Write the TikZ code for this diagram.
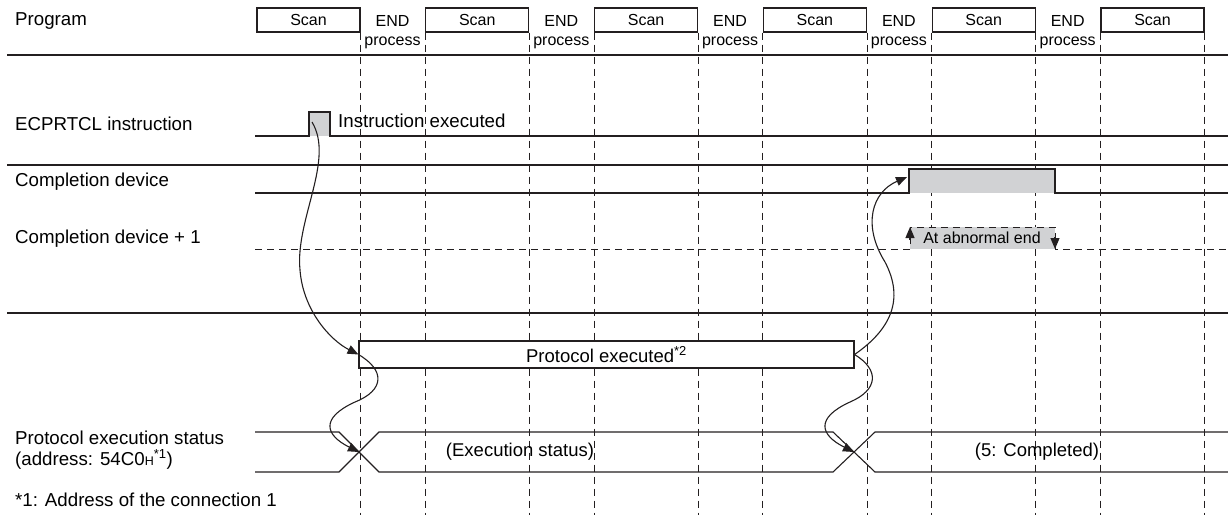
\documentclass[tikz,border=0pt]{standalone}
\usepackage{fontspec}
\setmainfont{Liberation Sans}
\usetikzlibrary{arrows.meta}
\definecolor{lineblack}{RGB}{35,31,32}
\definecolor{pulsegray}{RGB}{209,210,212}

\begin{document}
\begin{tikzpicture}[x=1pt, y=-1pt,
    sig/.style={lineblack, line width=1.1pt},
    sep/.style={lineblack, line width=2.6pt},
    grid/.style={lineblack, line width=0.9pt, dash pattern=on 7pt off 5pt},
    lbl/.style={anchor=west, inner sep=0pt, font=\fontsize{18.7}{20.5}\selectfont},
    txt/.style={inner sep=0pt, font=\fontsize{16}{18}\selectfont},
    bigtxt/.style={inner sep=0pt, font=\fontsize{18.5}{20}\selectfont},
    scanbox/.style={draw=lineblack, line width=1.1pt, minimum width=103pt, minimum height=24pt, inner sep=0pt, font=\fontsize{16}{18}\selectfont},
    tip/.style={-{Triangle[length=11pt,width=9pt]}}]

    \useasboundingbox (0,0) rectangle (1228,515);

    % Row labels
    \node[lbl] (program) at (15,21) {Program};
    \node[lbl] (ecprtcl) at (15,124) {ECPRTCL instruction};
    \node[lbl] (compdev) at (15,182) {Completion device};
    \node[lbl] (compdevone) at (15,239) {Completion device + 1};
    \node[lbl, align=left] (status) at (15,450) {Protocol execution status\\(address: 54C0{\fontsize{12.5}{12.5}\selectfont H}\textsuperscript{*1})};
    \node[lbl] (note) at (15,500) {*1: Address of the connection 1};

    % Scan and END process
    \foreach \k in {0,...,5}
        \node[scanbox] (scan\k) at ({308.5+168.8*\k},20) {Scan};
    \foreach \k in {0,...,4} {
        \node[txt] (end\k) at ({392.5+168.8*\k},21) {END};
        \node[txt] (proc\k) at ({392.5+168.8*\k},43) {process};
    }

    % Vertical dashed lines
    \foreach \k in {0,...,5}
        \draw[grid] (scan\k.south east) -- (scan\k.south east |- 0,515);
    \foreach \k in {1,...,5}
        \draw[grid] (scan\k.south west) -- (scan\k.south west |- 0,515);

    % Separators
    \draw[sep] (7,55) -- (1228,55);
    \draw[sep] (7,165) -- (1228,165);
    \draw[sep] (7,313) -- (1228,313);

    % ECPRTCL instruction
    \fill[pulsegray] (309,112) rectangle (330,136);
    \draw[sig] (255,136) -- (309,136) |- (330,112) -- (330,136) -- (1228,136);
    \node[lbl] (insexec) at (338,121) {Instruction executed};
    \coordinate (ins) at (312,122);

    % Completion device
    \fill[pulsegray] (909,169) rectangle (1055,193);
    \draw[sig] (255,193) -- (909,193) |- (1055,169) -- (1055,193) -- (1228,193);
    \coordinate (cmp) at (907,177);

    % Completion device + 1
    \fill[pulsegray] (910,227) rectangle (1055,249);
    \draw[grid] (255,249) -- (910,249) |- (1055,227) -- (1055,249) -- (1228,249);
    \draw[sig, tip] (910,240) -- (910,227);
    \draw[sig, tip] (1055,237) -- (1055,249);
    \node[txt] (abnormal) at (982,238) {At abnormal end};

    % Protocol executed
    \node[scanbox, fill=white, minimum width=495pt, minimum height=27pt, font=\fontsize{18.5}{20}\selectfont] (prot) at (606.5,354.5) {Protocol executed\textsuperscript{*2}};

    % Protocol execution status
    \coordinate (cross1) at (359,452);
    \coordinate (cross2) at (854,452);
    \draw[sig] (255,432) -- (339,432) -- (379,472) -- (833,472) -- (875,432) -- (1228,432);
    \draw[sig] (255,472) -- (339,472) -- (379,432) -- (833,432) -- (875,472) -- (1228,472);
    \node[bigtxt] (execstat) at (520,452) {(Execution status)};
    \node[bigtxt] (completed) at (1037,452) {(5: Completed)};

    % Flow arrows
    \draw[sig, tip] (ins) .. controls (335,160) and (295,220) .. (300,270)
        .. controls (303,310) and (330,340) .. (prot.west);
    \draw[sig, tip] (prot.west) .. controls (385,370) and (385,390) .. (355,402)
        .. controls (320,418) and (325,435) .. (cross1);
    \draw[sig, tip] (prot.east) .. controls (890,330) and (905,300) .. (885,262)
        .. controls (862,225) and (872,192) .. (cmp);
    \draw[sig, tip] (prot.east) .. controls (880,370) and (878,390) .. (850,402)
        .. controls (815,418) and (820,435) .. (cross2);
\end{tikzpicture}
\end{document}
